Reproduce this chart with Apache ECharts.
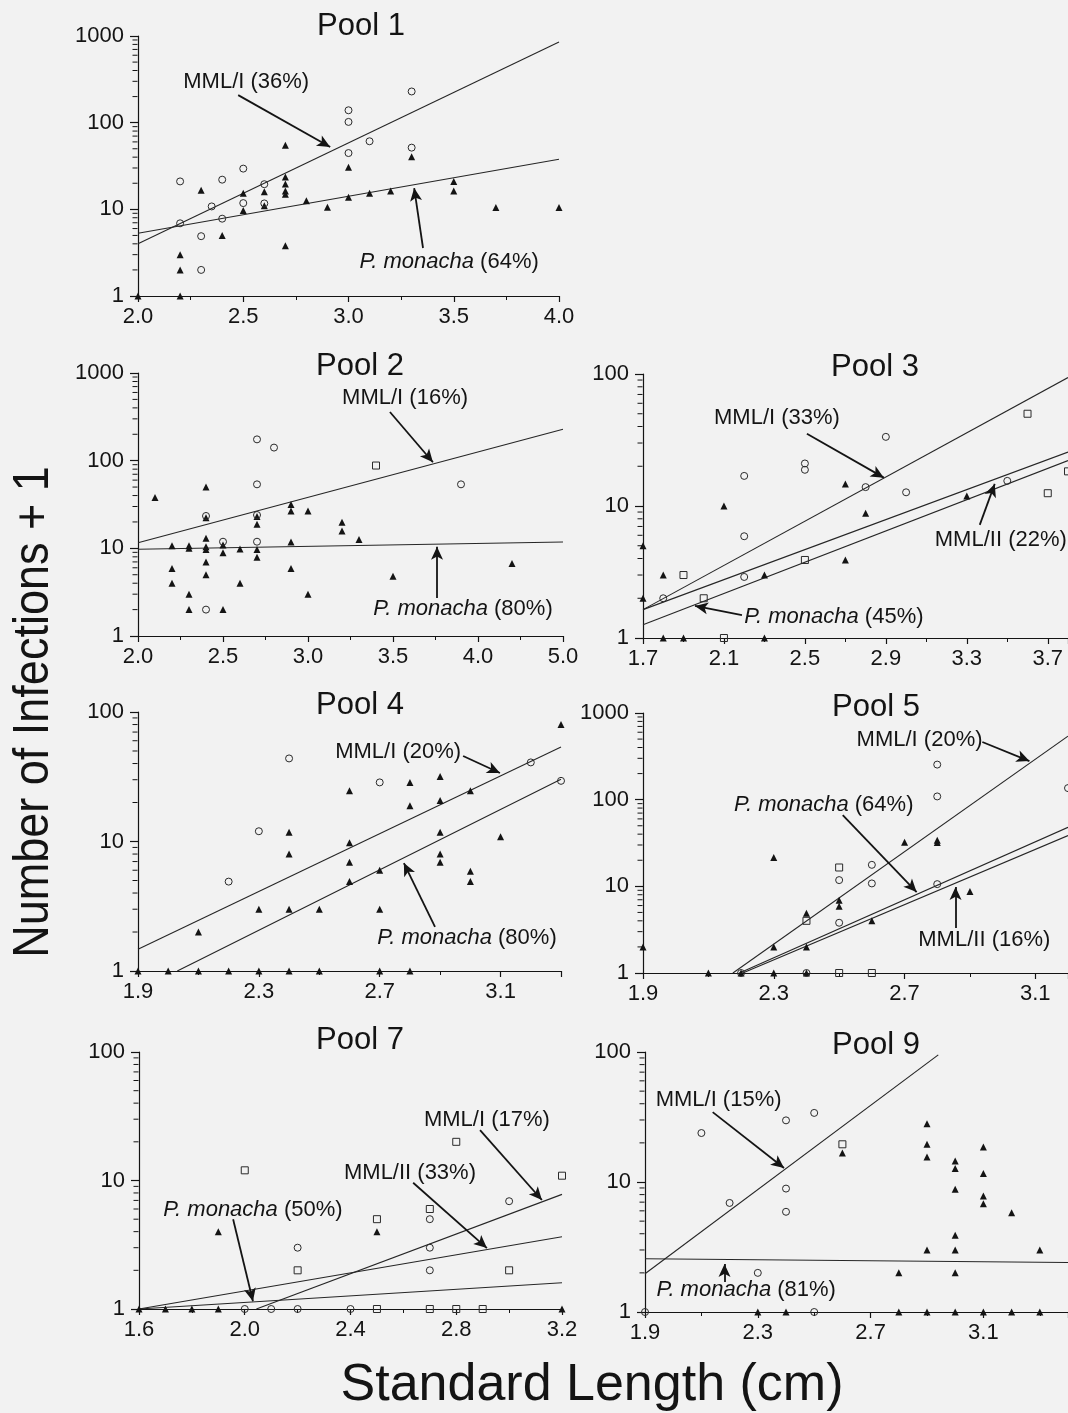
<!DOCTYPE html>
<html>
<head>
<meta charset="utf-8">
<script src="https://cdn.jsdelivr.net/npm/echarts@6/dist/echarts.min.js"></script>
<style>
html,body{margin:0;padding:0;background:#f2f2f2;}
#c{width:1068px;height:1413px;}
</style>
</head>
<body>
<div id="c"></div>
<script>
// ---------- DATA (x = standard length cm, y = infections + 1) ----------
// Pool 1
const pool1_monacha = [[2.0,1],[2.2,1],[2.2,2],[2.2,3],[2.3,16.6],[2.4,5],[2.5,15.3],[2.5,9.7],[2.6,16],[2.6,11],[2.7,55],[2.7,23.6],[2.7,19.6],[2.7,16.3],[2.7,14.9],[2.7,3.8],[2.8,12.6],[2.9,10.6],[3.0,30.5],[3.0,13.8],[3.1,15.3],[3.2,16.3],[3.3,40.5],[3.5,21],[3.5,16.3],[3.7,10.5],[4.0,10.5]];
const pool1_mml1 = [[2.2,21],[2.4,22],[2.5,29.5],[2.35,10.8],[2.2,6.9],[2.4,7.8],[2.3,4.9],[2.3,2],[2.5,11.8],[2.6,19.5],[2.6,11.7],[3.0,139],[3.0,102],[3.0,44.6],[3.1,61],[3.3,229],[3.3,51.5]];
const pool1_fit_mml1 = [[2.0,4.0],[4.0,851]];
const pool1_fit_monacha = [[2.0,5.3],[4.0,37.8]];
// Pool 2
const pool2_monacha = [[2.1,38],[2.2,10.7],[2.2,5.9],[2.2,4],[2.3,10.7],[2.3,10],[2.3,3],[2.3,2],[2.4,50],[2.4,22.4],[2.4,13],[2.4,10.4],[2.4,9.7],[2.4,7],[2.4,5],[2.5,10.9],[2.5,8.9],[2.5,2],[2.6,9.8],[2.6,4],[2.7,23],[2.7,18.8],[2.7,9.7],[2.7,7.9],[2.9,31.7],[2.9,26.7],[2.9,11.8],[2.9,5.9],[3.0,26.6],[3.0,3],[3.2,19.8],[3.2,15.8],[3.3,12.6],[3.5,4.8],[4.2,6.7]];
const pool2_mml1 = [[2.7,175],[2.8,141],[2.7,53.7],[2.4,23.4],[2.7,24],[2.5,11.9],[2.7,11.9],[2.4,2],[3.9,53.7]];
const pool2_mml2 = [[3.4,88]];
const pool2_fit_mml1 = [[2.0,11.6],[4.5,228]];
const pool2_fit_monacha = [[2.0,9.75],[4.5,11.8]];
const pool2_xTickLabels = ['2.0','2.5','3.0','3.5','4.0','5.0'];
// Pool 3
const pool3_monacha = [[2.1,10],[2.7,14.7],[2.8,8.8],[2.7,3.9],[2.3,3],[1.8,3],[1.7,5],[1.7,2],[1.8,1],[1.9,1],[2.3,1],[3.3,11.9]];
const pool3_mml1 = [[2.2,16.9],[2.5,21],[2.5,18.8],[2.9,33.4],[2.2,5.9],[2.2,2.9],[2.8,13.9],[3.0,12.7],[3.5,15.5],[1.8,2]];
const pool3_mml2 = [[1.9,3],[2.0,2],[2.5,3.9],[2.1,1],[3.6,50],[3.8,18.3],[3.7,12.5]];
const pool3_fit_mml1 = [[1.7,1.64],[3.8,94]];
const pool3_fit_mml2 = [[1.7,1.64],[3.8,25.6]];
const pool3_fit_monacha = [[1.7,1.26],[3.8,22.1]];
// Pool 4
const pool4_monacha = [[1.9,1],[2.0,1],[2.1,1],[2.2,1],[2.3,1],[2.4,1],[2.5,1],[2.7,1],[2.8,1],[2.1,2],[2.3,3],[2.4,3],[2.5,3],[2.7,3],[2.4,11.8],[2.4,8],[2.6,24.6],[2.6,9.8],[2.6,6.9],[2.6,4.9],[2.7,6],[2.8,28.6],[2.8,18.9],[2.9,31.8],[2.9,20.7],[2.9,11.8],[2.9,8],[2.9,6.9],[3.0,24.6],[3.0,5.9],[3.0,4.9],[3.1,10.9],[3.3,80]];
const pool4_mml1 = [[2.4,43.8],[2.3,12],[2.2,4.9],[2.7,28.6],[3.2,40.8],[3.3,29.4]];
const pool4_fit_mml1 = [[1.9,1.47],[3.3,53.6]];
const pool4_fit_monacha = [[2.03,1],[3.3,30.3]];
// Pool 5
const pool5_monacha = [[1.9,2],[2.1,1],[2.2,1],[2.3,1],[2.3,2],[2.3,21.5],[2.4,1],[2.4,2],[2.4,4.9],[2.5,6.9],[2.5,5.9],[2.6,4],[2.7,32.3],[2.8,34],[2.8,32],[2.9,8.7]];
const pool5_mml1 = [[2.8,254],[2.8,109],[2.6,17.7],[2.5,11.8],[2.5,3.8],[2.6,10.8],[2.8,10.6],[3.2,136],[2.2,1],[2.4,1]];
const pool5_mml2 = [[2.5,16.5],[2.4,4],[2.5,1],[2.6,1]];
const pool5_fit_mml1 = [[2.175,1],[3.2,540]];
const pool5_fit_monacha = [[2.195,1],[3.2,48]];
const pool5_fit_mml2 = [[2.205,1],[3.2,38.5]];
// Pool 7
const pool7_monacha = [[1.6,1],[1.7,1],[1.8,1],[1.9,1],[1.9,4],[2.5,4],[3.2,1]];
const pool7_mml1 = [[2.0,1],[2.1,1],[2.2,1],[2.4,1],[2.2,3],[2.7,5],[2.7,3],[2.7,2],[3.0,6.9]];
const pool7_mml2 = [[2.0,12],[2.8,20],[3.2,10.9],[2.5,5],[2.7,6],[2.2,2],[3.0,2],[2.5,1],[2.7,1],[2.8,1],[2.9,1]];
const pool7_fit_mml1 = [[2.044,1],[3.2,7.8]];
const pool7_fit_mml2 = [[1.6,1],[3.2,3.65]];
const pool7_fit_monacha = [[1.6,1],[3.2,1.6]];
// Pool 9
const pool9_monacha = [[2.6,16.7],[2.3,1],[2.4,1],[2.8,1],[2.9,1],[3.0,1],[3.1,1],[3.2,1],[3.3,1],[2.8,2],[2.9,28],[2.9,19.5],[2.9,15.6],[2.9,3],[3.0,14.5],[3.0,12.7],[3.0,8.8],[3.0,3.9],[3.0,3],[3.0,2],[3.1,18.6],[3.1,11.6],[3.1,7.8],[3.1,6.8],[3.2,5.8],[3.3,3]];
const pool9_mml1 = [[1.9,1],[2.5,1],[2.1,23.8],[2.2,6.9],[2.4,29.8],[2.5,34],[2.4,8.9],[2.4,5.9],[2.3,2]];
const pool9_mml2 = [[2.6,19.5]];
const pool9_fit_mml1 = [[1.9,1.97],[2.94,95]];
const pool9_fit_monacha = [[1.9,2.57],[3.4,2.4]];

// ---------- LAYOUT ----------
const FONT = '"Liberation Sans", Arial, Helvetica, sans-serif';
const INK = '#141414';
const PM = '{i|P. monacha}';

const panels = [
  {name:'Pool 1', tx:361, ty:11, grid:{left:138, top:36, width:421, height:260}, xMin:2.0, xMax:4.0, xStep:0.5, showMax:true, yMax:1000,
   monacha:pool1_monacha, mml1:pool1_mml1, mml2:null, fits:[pool1_fit_mml1, pool1_fit_monacha],
   notes:[{text:'MML/I (36%)', at:[2.514,294], from:[2.476,208], to:[2.913,52.4]},
          {text:PM+' (64%)', at:[3.478,2.47], from:[3.354,3.58], to:[3.312,17.6]}]},
  {name:'Pool 2', tx:360, ty:351, grid:{left:138, top:373, width:425, height:263}, xMin:2.0, xMax:4.5, xStep:0.5, showMax:true, yMax:1000, tickLabels:pool2_xTickLabels,
   monacha:pool2_monacha, mml1:pool2_mml1, mml2:pool2_mml2, fits:[pool2_fit_mml1, pool2_fit_monacha],
   notes:[{text:'MML/I (16%)', at:[3.571,519], from:[3.482,359], to:[3.735,96]},
          {text:PM+' (80%)', at:[3.912,2.03], from:[3.759,2.71], to:[3.759,10.4]}]},
  {name:'Pool 3', tx:875, ty:352, grid:{left:643, top:374, width:425, height:264}, xMin:1.7, xMax:3.8, xStep:0.4, showMax:false, yMax:100,
   monacha:pool3_monacha, mml1:pool3_mml1, mml2:pool3_mml2, fits:[pool3_fit_mml1, pool3_fit_mml2, pool3_fit_monacha],
   notes:[{text:'MML/I (33%)', at:[2.362,46.7], from:[2.51,35.3], to:[2.89,16.4]},
          {text:'MML/II (22%)', at:[3.468,5.54], from:[3.364,7.2], to:[3.438,14.7]},
          {text:PM+' (45%)', at:[2.643,1.44], from:[2.189,1.49], to:[1.957,1.75]}]},
  {name:'Pool 4', tx:360, ty:690, grid:{left:138, top:712, width:423, height:259}, xMin:1.9, xMax:3.3, xStep:0.4, showMax:false, yMax:100,
   monacha:pool4_monacha, mml1:pool4_mml1, mml2:null, fits:[pool4_fit_mml1, pool4_fit_monacha],
   notes:[{text:'MML/I (20%)', at:[2.761,49.1], from:[2.976,45.7], to:[3.098,33.8]},
          {text:PM+' (80%)', at:[2.989,1.80], from:[2.883,2.19], to:[2.780,6.82]}]},
  {name:'Pool 5', tx:876, ty:692, grid:{left:643, top:713, width:425, height:260}, xMin:1.9, xMax:3.2, xStep:0.4, showMax:false, yMax:1000,
   monacha:pool5_monacha, mml1:pool5_mml1, mml2:pool5_mml2, fits:[pool5_fit_mml1, pool5_fit_monacha, pool5_fit_mml2],
   notes:[{text:'MML/I (20%)', at:[2.746,488], from:[2.938,463], to:[3.082,279]},
          {text:PM+' (64%)', at:[2.453,86.8], from:[2.511,66.5], to:[2.737,8.6]},
          {text:'MML/II (16%)', at:[2.944,2.4], from:[2.856,3.3], to:[2.856,9.8]}]},
  {name:'Pool 7', tx:360, ty:1025, grid:{left:139, top:1052, width:423, height:257}, xMin:1.6, xMax:3.2, xStep:0.4, showMax:true, yMax:100,
   monacha:pool7_monacha, mml1:pool7_mml1, mml2:pool7_mml2, fits:[pool7_fit_mml1, pool7_fit_mml2, pool7_fit_monacha],
   notes:[{text:'MML/I (17%)', at:[2.916,29.6], from:[2.890,24.7], to:[3.124,7.05]},
          {text:'MML/II (33%)', at:[2.625,11.4], from:[2.637,9.6], to:[2.916,2.98]},
          {text:PM+' (50%)', at:[2.031,5.9], from:[1.956,5.0], to:[2.031,1.15]}]},
  {name:'Pool 9', tx:876, ty:1030, grid:{left:645, top:1052, width:426, height:260}, xMin:1.9, xMax:3.4, xStep:0.4, showMax:false, yMax:100,
   monacha:pool9_monacha, mml1:pool9_mml1, mml2:pool9_mml2, fits:[pool9_fit_mml1, pool9_fit_monacha],
   notes:[{text:'MML/I (15%)', at:[2.161,42.7], from:[2.140,34.5], to:[2.393,12.8]},
          {text:PM+' (81%)', at:[2.259,1.48], from:[2.182,1.70], to:[2.182,2.34]}]}
];

const grids = [], xAxes = [], yAxes = [], series = [], graphics = [];
const axisLineStyle = {color: INK, width: 1.2};

panels.forEach((p, i) => {
  grids.push(Object.assign({containLabel:false}, p.grid));
  xAxes.push({
    type:'value', gridIndex:i, min:p.xMin, max:p.xMax, interval:p.xStep,
    axisLine:{show:true, onZero:false, lineStyle:axisLineStyle},
    axisTick:{show:true, length:6, lineStyle:axisLineStyle},
    minorTick:{show:true, splitNumber:2, length:4, lineStyle:{color:INK, width:1}},
    splitLine:{show:false},
    axisLabel:{fontSize:22, color:INK, fontFamily:FONT, margin:10, showMaxLabel:p.showMax, showMinLabel:true,
      formatter: p.tickLabels ? ((v, idx) => p.tickLabels[idx] !== undefined ? p.tickLabels[idx] : '') : (v => v.toFixed(1))}
  });
  yAxes.push({
    type:'log', logBase:10, gridIndex:i, min:1, max:p.yMax,
    axisLine:{show:true, lineStyle:axisLineStyle},
    axisTick:{show:true, length:8, lineStyle:axisLineStyle},
    splitLine:{show:false},
    axisLabel:{fontSize:22, color:INK, fontFamily:FONT, margin:14, formatter: v => String(Math.round(v))}
  });
  // minor log ticks on y axis (2..9 in each decade)
  const minor = [];
  for (let d = 1; d < p.yMax; d *= 10) for (let k = 2; k <= 9; k++) minor.push([p.xMin, k*d]);
  series.push({type:'scatter', xAxisIndex:i, yAxisIndex:i, data:minor, symbol:'rect', symbolSize:[5,1], symbolOffset:[-3,0],
    itemStyle:{color:INK, opacity:1}, clip:false, silent:true, z:1});
  // regression lines
  p.fits.forEach(f => series.push({type:'line', xAxisIndex:i, yAxisIndex:i, data:f, symbol:'none',
    lineStyle:{color:'#262626', width:1.1}, clip:true, silent:true, z:2}));
  // points
  series.push({type:'scatter', xAxisIndex:i, yAxisIndex:i, data:p.monacha, symbol:'triangle', symbolSize:7,
    itemStyle:{color:INK, opacity:1}, z:4, clip:false});
  series.push({type:'scatter', xAxisIndex:i, yAxisIndex:i, data:p.mml1, symbol:'circle', symbolSize:7,
    itemStyle:{color:'rgba(0,0,0,0)', borderColor:'#2a2a2a', borderWidth:1, opacity:1}, z:4, clip:false});
  if (p.mml2) series.push({type:'scatter', xAxisIndex:i, yAxisIndex:i, data:p.mml2, symbol:'rect', symbolSize:7,
    itemStyle:{color:'rgba(0,0,0,0)', borderColor:'#2a2a2a', borderWidth:1, opacity:1}, z:4, clip:false});
  // annotations
  series.push({type:'scatter', xAxisIndex:i, yAxisIndex:i, symbolSize:1, itemStyle:{color:'rgba(0,0,0,0)', opacity:1}, silent:true, z:6,
    data:p.notes.map(n => ({value:n.at, label:{formatter:n.text}})),
    label:{show:true, position:'inside', fontSize:22, color:INK, fontFamily:FONT, textBorderWidth:0,
      rich:{i:{fontStyle:'italic', fontSize:22, color:INK, fontFamily:FONT, textBorderWidth:0}}},
    markLine:{silent:true, animation:false, symbol:['none','arrow'], symbolSize:[9,13], label:{show:false},
      lineStyle:{color:INK, width:1.8, type:'solid', opacity:1},
      data:p.notes.map(n => [{coord:n.from}, {coord:n.to}])}
  });
  graphics.push({type:'text', x:p.tx, y:p.ty, silent:true,
    style:{text:p.name, fill:INK, font:'31px ' + FONT, align:'center', verticalAlign:'top'}});
});

graphics.push({type:'text', x:34, y:712, rotation:Math.PI/2, scaleX:0.9, silent:true,
  style:{text:'Number of Infections + 1', fill:INK, font:'50px ' + FONT, align:'center', verticalAlign:'middle'}});
graphics.push({type:'text', x:592, y:1386, silent:true,
  style:{text:'Standard Length (cm)', fill:INK, font:'52px ' + FONT, align:'center', verticalAlign:'middle'}});

const chart = echarts.init(document.getElementById('c'), null, {renderer:'canvas'});
chart.setOption({
  backgroundColor:'#f2f2f2',
  animation:false,
  grid:grids, xAxis:xAxes, yAxis:yAxes, series:series, graphic:graphics
});
</script>
</body>
</html>
